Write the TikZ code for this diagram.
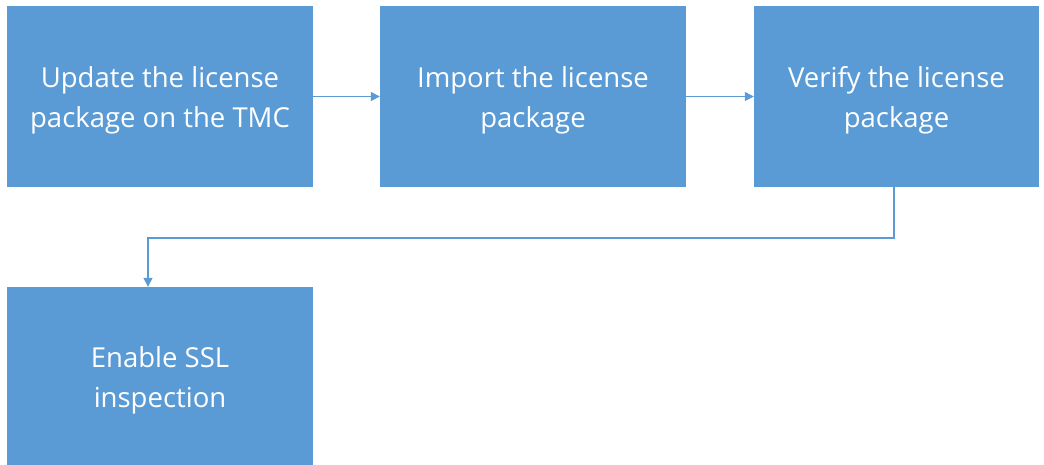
\documentclass[tikz,border=0pt]{standalone}
\usepackage{fontspec}
\setmainfont{Open Sans}
\usetikzlibrary{arrows.meta}
\definecolor{boxblue}{HTML}{5B9BD5}
\definecolor{lineblue}{HTML}{5B9BD5}
\tikzset{
  stepbox/.style={fill=boxblue, draw=none, text=white, align=center, font=\fontsize{27.5}{40}\selectfont, text height=68pt},
  conn/.style={draw=lineblue, line width=1.3pt, -{Triangle[length=9pt,width=9pt]}}
}
\begin{document}
\begin{tikzpicture}[x=1pt,y=-1pt]
\useasboundingbox (0,0) rectangle (1044,464);
\node[stepbox, minimum width=306pt, minimum height=181pt] (a) at (160,96.5) {Update the license\\package on the TMC};
\node[stepbox, minimum width=306pt, minimum height=181pt] (b) at (533,96.5) {Import the license\\package};
\node[stepbox, minimum width=285pt, minimum height=181pt] (c) at (896.5,96.5) {Verify the license\\package};
\node[stepbox, minimum width=306pt, minimum height=180pt] (d) at (160,377) {Enable SSL\\inspection};
\coordinate (c1) at (894,238);
\coordinate (c2) at (148,238);
\draw[conn] (a.east) -- (b.west);
\draw[conn] (b.east) -- (c.west);
\draw[conn] (c.south -| c1) -- (c1) -- (c2) -- (d.north -| c2);
\end{tikzpicture}
\end{document}
